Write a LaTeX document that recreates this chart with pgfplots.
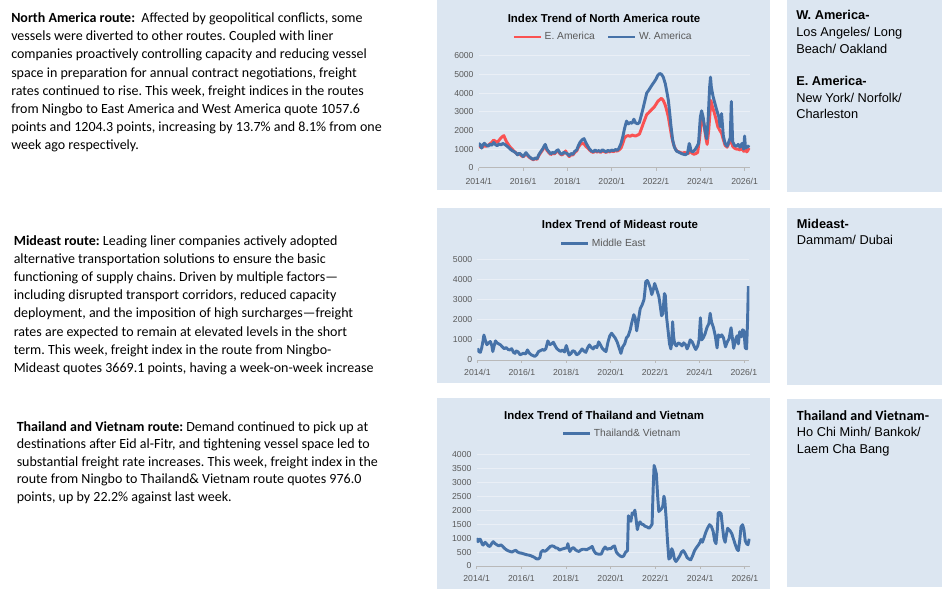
\documentclass[border=0pt]{standalone}
\usepackage{fontspec}
\setmainfont{Liberation Sans}
\newfontfamily\calfont{Carlito}
\usepackage{pgfplots}
\usepackage{pgfplotstable}
\pgfplotsset{compat=1.18}
\frenchspacing

\definecolor{panel}{RGB}{220,230,241}
\definecolor{gridc}{RGB}{234,239,246}
\definecolor{wam}{RGB}{70,114,168}
\definecolor{eam}{RGB}{250,82,82}
\definecolor{lbl}{RGB}{89,89,89}

% North America, West coast
\pgfplotstableread{
year val
2014.00 1130
2014.04 1280
2014.08 1180
2014.13 1050
2014.17 1200
2014.25 1310
2014.33 1220
2014.42 1150
2014.50 1260
2014.58 1200
2014.67 1350
2014.75 1240
2014.83 1180
2014.92 1280
2015.00 1220
2015.08 1300
2015.17 1250
2015.25 1180
2015.33 1100
2015.42 1000
2015.50 920
2015.58 870
2015.67 800
2015.75 690
2015.83 780
2015.92 700
2016.00 600
2016.08 720
2016.13 810
2016.21 680
2016.29 580
2016.38 500
2016.46 450
2016.54 520
2016.63 480
2016.71 700
2016.79 850
2016.88 1000
2016.96 1180
2017.00 1250
2017.08 980
2017.17 850
2017.25 740
2017.33 820
2017.42 780
2017.50 900
2017.58 960
2017.67 780
2017.75 720
2017.83 820
2017.92 790
2018.00 750
2018.08 650
2018.17 760
2018.25 720
2018.33 880
2018.42 950
2018.50 1200
2018.58 1380
2018.67 1500
2018.75 1560
2018.83 1350
2018.92 1150
2019.00 1000
2019.08 900
2019.17 860
2019.25 950
2019.33 880
2019.42 920
2019.50 860
2019.58 960
2019.67 900
2019.75 850
2019.83 930
2019.92 880
2020.00 950
2020.08 900
2020.17 980
2020.25 930
2020.33 1050
2020.42 1300
2020.50 1650
2020.58 2100
2020.67 2500
2020.75 2350
2020.83 2420
2020.92 2380
2021.00 2600
2021.08 2400
2021.17 2350
2021.25 2420
2021.33 2780
2021.42 3200
2021.50 3600
2021.58 4000
2021.67 4150
2021.75 4300
2021.83 4450
2021.92 4600
2022.00 4750
2022.08 4950
2022.17 5050
2022.25 5000
2022.33 4850
2022.42 4500
2022.50 4000
2022.56 3600
2022.63 2800
2022.67 2300
2022.75 1500
2022.83 1100
2022.92 900
2023.00 850
2023.08 800
2023.17 750
2023.25 720
2023.33 700
2023.42 760
2023.50 1300
2023.54 1150
2023.58 900
2023.67 850
2023.75 950
2023.83 1100
2023.92 1300
2024.00 2700
2024.06 3050
2024.13 2700
2024.21 2000
2024.29 1550
2024.35 2500
2024.42 4300
2024.46 4850
2024.50 4300
2024.58 3800
2024.67 3400
2024.75 3050
2024.83 2750
2024.90 2200
2024.96 2900
2025.04 1700
2025.12 1300
2025.21 1150
2025.29 1400
2025.35 1600
2025.40 3550
2025.46 1400
2025.54 1200
2025.63 1150
2025.71 1250
2025.79 1100
2025.88 1300
2025.96 1000
2026.00 1700
2026.04 1050
2026.10 1100
2026.15 1114
2026.20 1204
}\wamdata

% North America, East coast
\pgfplotstableread{
year val
2014.00 1100
2014.08 1150
2014.17 1100
2014.25 1180
2014.33 1150
2014.42 1200
2014.50 1280
2014.58 1350
2014.67 1480
2014.75 1420
2014.83 1350
2014.92 1480
2015.00 1600
2015.08 1680
2015.13 1720
2015.17 1600
2015.25 1400
2015.33 1250
2015.42 1100
2015.50 1000
2015.58 900
2015.67 800
2015.75 700
2015.83 750
2015.92 650
2016.00 580
2016.08 680
2016.13 760
2016.21 640
2016.29 550
2016.38 480
2016.46 430
2016.54 480
2016.63 450
2016.71 650
2016.79 800
2016.88 950
2016.96 1100
2017.00 1150
2017.08 920
2017.17 800
2017.25 700
2017.33 780
2017.42 740
2017.50 850
2017.58 900
2017.67 740
2017.75 680
2017.83 760
2017.92 900
2018.00 720
2018.08 600
2018.17 700
2018.25 680
2018.33 820
2018.42 900
2018.50 1100
2018.58 1250
2018.67 1300
2018.75 1280
2018.83 1150
2018.92 1050
2019.00 950
2019.08 860
2019.17 820
2019.25 900
2019.33 840
2019.42 880
2019.50 820
2019.58 900
2019.67 860
2019.75 820
2019.83 880
2019.92 850
2020.00 900
2020.08 860
2020.17 920
2020.25 890
2020.33 950
2020.42 1050
2020.50 1300
2020.58 1600
2020.67 1700
2020.75 1720
2020.83 1680
2020.92 1750
2021.00 1720
2021.08 1700
2021.17 1750
2021.25 1800
2021.33 2050
2021.42 2350
2021.50 2600
2021.58 2850
2021.67 2950
2021.75 3050
2021.83 3150
2021.92 3250
2022.00 3400
2022.08 3550
2022.17 3650
2022.25 3720
2022.33 3600
2022.42 3350
2022.50 3000
2022.56 2700
2022.63 2200
2022.71 1650
2022.79 1250
2022.88 1000
2022.96 880
2023.04 850
2023.13 800
2023.21 780
2023.29 820
2023.38 780
2023.46 760
2023.54 900
2023.63 780
2023.71 720
2023.79 750
2023.88 820
2023.96 1500
2024.04 2400
2024.10 2700
2024.17 2300
2024.25 1600
2024.31 1250
2024.38 2000
2024.44 3000
2024.48 3600
2024.54 3300
2024.63 2950
2024.71 2600
2024.79 2200
2024.88 2000
2024.96 1850
2025.04 1500
2025.12 1200
2025.21 1100
2025.29 1300
2025.38 1350
2025.42 1500
2025.46 1150
2025.54 1050
2025.63 1000
2025.71 1000
2025.79 950
2025.88 1050
2025.96 880
2026.04 950
2026.10 850
2026.15 930
2026.20 1058
}\eamdata

% Mideast
\pgfplotstableread{
year val
2014.00 580
2014.06 420
2014.13 380
2014.19 600
2014.25 950
2014.29 1240
2014.35 1000
2014.42 760
2014.50 850
2014.58 920
2014.65 700
2014.69 420
2014.75 700
2014.81 950
2014.88 850
2014.96 800
2015.04 750
2015.12 650
2015.21 560
2015.29 620
2015.38 520
2015.46 500
2015.54 560
2015.62 380
2015.69 330
2015.75 450
2015.83 400
2015.92 260
2016.00 300
2016.08 340
2016.17 300
2016.25 500
2016.33 350
2016.42 260
2016.50 220
2016.58 180
2016.67 260
2016.75 420
2016.83 460
2016.92 520
2017.00 480
2017.08 560
2017.17 950
2017.25 760
2017.33 800
2017.42 880
2017.50 700
2017.58 560
2017.67 480
2017.75 430
2017.83 500
2017.92 400
2018.00 720
2018.08 420
2018.13 250
2018.21 320
2018.29 460
2018.38 420
2018.46 260
2018.54 300
2018.63 420
2018.71 550
2018.79 450
2018.88 380
2018.96 600
2019.04 750
2019.13 620
2019.21 550
2019.29 680
2019.38 620
2019.46 900
2019.54 750
2019.62 580
2019.71 480
2019.79 420
2019.88 900
2019.96 1200
2020.04 1330
2020.13 1200
2020.21 1080
2020.29 900
2020.38 600
2020.46 330
2020.54 650
2020.63 800
2020.71 1100
2020.79 1200
2020.88 1500
2020.96 1900
2021.04 2250
2021.10 2100
2021.17 1450
2021.25 2000
2021.33 2550
2021.42 2750
2021.50 3000
2021.54 3400
2021.58 3900
2021.65 3950
2021.71 3800
2021.79 3550
2021.85 3250
2021.92 3500
2021.98 3800
2022.04 3600
2022.10 3400
2022.17 3150
2022.23 2700
2022.29 2200
2022.35 2300
2022.42 3300
2022.46 3200
2022.52 2100
2022.58 1500
2022.65 800
2022.71 550
2022.75 900
2022.79 1900
2022.83 1200
2022.88 800
2022.96 700
2023.04 850
2023.13 800
2023.21 700
2023.29 850
2023.38 750
2023.44 550
2023.50 700
2023.58 1000
2023.67 900
2023.75 700
2023.83 520
2023.92 700
2023.98 1000
2024.04 2100
2024.10 1000
2024.17 1100
2024.25 1300
2024.33 1600
2024.42 1800
2024.48 2320
2024.54 1900
2024.63 1600
2024.71 1200
2024.79 600
2024.85 1250
2024.92 1150
2025.00 1250
2025.08 1100
2025.17 650
2025.25 900
2025.33 1050
2025.42 1600
2025.48 1100
2025.54 580
2025.62 1000
2025.69 1200
2025.75 800
2025.81 1400
2025.88 1150
2025.94 1500
2026.00 1450
2026.06 600
2026.12 550
2026.16 1800
2026.20 3669
}\medata

% Thailand and Vietnam
\pgfplotstableread{
year val
2014.00 1000
2014.06 870
2014.12 960
2014.17 950
2014.25 780
2014.29 750
2014.38 850
2014.44 800
2014.52 720
2014.59 700
2014.67 800
2014.74 870
2014.83 800
2014.92 750
2015.00 720
2015.08 760
2015.17 700
2015.25 630
2015.33 580
2015.42 540
2015.50 520
2015.58 500
2015.67 540
2015.75 560
2015.83 500
2015.92 470
2016.00 460
2016.08 440
2016.17 420
2016.25 400
2016.33 390
2016.42 370
2016.50 340
2016.58 310
2016.67 260
2016.75 250
2016.83 300
2016.88 500
2016.96 560
2017.04 520
2017.12 560
2017.21 630
2017.29 700
2017.38 720
2017.46 700
2017.54 650
2017.62 640
2017.71 570
2017.79 600
2017.88 620
2017.96 640
2018.04 650
2018.08 800
2018.13 620
2018.17 520
2018.25 620
2018.33 660
2018.42 580
2018.50 540
2018.58 520
2018.67 580
2018.75 600
2018.83 600
2018.92 580
2019.00 620
2019.08 650
2019.17 700
2019.25 540
2019.33 450
2019.42 430
2019.50 420
2019.58 430
2019.67 600
2019.75 680
2019.83 600
2019.92 620
2020.00 620
2020.08 680
2020.17 720
2020.25 500
2020.33 420
2020.42 360
2020.50 330
2020.58 360
2020.67 500
2020.75 550
2020.79 1800
2020.85 1650
2020.90 1600
2020.96 1900
2021.02 1850
2021.08 2000
2021.13 1700
2021.19 1300
2021.25 1500
2021.31 1580
2021.38 1500
2021.46 1480
2021.54 1420
2021.62 1400
2021.71 1350
2021.79 1420
2021.85 1500
2021.90 2800
2021.94 3600
2021.98 3500
2022.04 3300
2022.10 2500
2022.15 1950
2022.21 2000
2022.27 2050
2022.33 2150
2022.38 2500
2022.42 2350
2022.48 1700
2022.54 900
2022.60 250
2022.67 300
2022.73 620
2022.79 500
2022.85 250
2022.92 160
2023.00 250
2023.08 350
2023.17 500
2023.25 550
2023.33 450
2023.42 300
2023.50 250
2023.58 220
2023.67 380
2023.75 550
2023.83 650
2023.92 750
2024.00 850
2024.04 950
2024.10 850
2024.17 1000
2024.25 1200
2024.33 1350
2024.42 1480
2024.50 1420
2024.58 1250
2024.65 900
2024.71 800
2024.77 1300
2024.81 1900
2024.88 1920
2024.94 1870
2025.00 1400
2025.06 1000
2025.12 850
2025.17 1100
2025.23 1350
2025.29 1300
2025.35 1250
2025.42 1150
2025.50 950
2025.58 750
2025.65 600
2025.71 550
2025.77 900
2025.83 1400
2025.90 1480
2025.96 1300
2026.02 900
2026.08 800
2026.14 760
2026.20 976
}\tvdata

\pgfplotsset{
  route/.style={
    scale only axis,
    anchor=south west,
    xmin=2014, xmax=2026.25, ymin=0,
    xtick={2014,2016,2018,2020,2022,2024,2026},
    xticklabels={2014/1,2016/1,2018/1,2020/1,2022/1,2024/1,2026/1},
    axis x line*=bottom, axis y line*=left,
    y axis line style={draw=none},
    x axis line style={draw=gray!55, line width=0.6pt},
    ytick style={draw=none},
    xtick style={draw=gray!55, line width=0.6pt},
    tick align=outside, major tick length=2.2pt,
    ymajorgrids, grid style={draw=gridc, line width=0.7pt},
    tick label style={font=\fontsize{6.5}{7}\selectfont, text=lbl},
    yticklabel style={xshift=1.8pt},
    /pgf/number format/assume math mode=true,
    /pgf/number format/1000 sep={},
    legend style={draw=none, fill=none, anchor=center,
      font=\fontsize{7.7}{8}\selectfont, text=lbl,
      /tikz/every even column/.append style={column sep=7pt}},
    legend columns=-1,
    legend image code/.code={\draw[#1, line width=2.2pt] (0pt,0pt) -- (20pt,0pt);},
    every axis plot/.append style={line width=2.2pt, line join=round, no markers},
  }
}

\newcommand\tline[3]{\node[anchor=base west, inner sep=0, font=\calfont\fontsize{10.5}{13}\selectfont] at (#1,#2) {#3};}
\newcommand\bline[3]{\node[anchor=base west, inner sep=0, font=\fontsize{9.6}{11}\selectfont] at (#1,#2) {#3};}

\begin{document}
\begin{tikzpicture}[x=0.75pt,y=0.75pt]
\path[use as bounding box] (0,0) rectangle (949,590);

% panels
\fill[panel] (437,400) rectangle (770,590);
\fill[panel] (437,207) rectangle (770,382);
\fill[panel] (437,1) rectangle (770,192);
\fill[panel] (787,398) rectangle (942,590);
\fill[panel] (787,205) rectangle (942,382);
\fill[panel] (787,3) rectangle (942,191);

% North America
\begin{axis}[route, at={(359.1pt,316.7pt)}, width=203.5pt, height=84pt,
  ymax=6000, ytick={0,1000,...,6000},
  xticklabel style={yshift=-2pt},
  legend style={at={(0.459,1.167)}}]
\addplot[eam] table[x=year,y=val] {\eamdata};
\addplot[wam] table[x=year,y=val] {\wamdata};
\legend{E. America, W. America}
\end{axis}

% Mideast
\begin{axis}[route, at={(358.1pt,172.5pt)}, width=204pt, height=75.5pt,
  ymax=5000, ytick={0,1000,...,5000},
  xticklabel style={yshift=-1.3pt},
  legend style={at={(0.465,1.159)}}]
\addplot[wam] table[x=year,y=val] {\medata};
\legend{Middle East}
\end{axis}

% Thailand and Vietnam
\begin{axis}[route, at={(357.5pt,18pt)}, width=205.3pt, height=83.8pt,
  ymax=4000, ytick={0,500,...,4000},
  xticklabel style={yshift=-1.3pt},
  legend style={at={(0.532,1.182)}}]
\addplot[wam] table[x=year,y=val] {\tvdata};
\legend{Thailand\& Vietnam}
\end{axis}

% chart titles
\node[font=\bfseries\fontsize{8.6}{10}\selectfont] at (604,572) {Index Trend of North America route};
\node[font=\bfseries\fontsize{8.6}{10}\selectfont] at (620,365.7) {Index Trend of Mideast route};
\node[font=\bfseries\fontsize{8.6}{10}\selectfont] at (604,174.3) {Index Trend of Thailand and Vietnam};

% port boxes
\bline{796}{570}{\textbf{W. America-}}
\bline{796}{553.3}{Los Angeles/ Long}
\bline{796}{536.7}{Beach/ Oakland}
\bline{796}{504}{\textbf{E. America-}}
\bline{796}{487.7}{New York/ Norfolk/}
\bline{796}{471}{Charleston}
\bline{796.7}{361.7}{\textbf{Mideast-}}
\bline{796.7}{345}{Dammam/ Dubai}
\node[anchor=base west, inner sep=0, font=\calfont\bfseries\fontsize{10.5}{12}\selectfont] at (796.7,170) {Thailand and Vietnam-};
\bline{796.7}{153.3}{Ho Chi Minh/ Bankok/}
\bline{796.7}{136.7}{Laem Cha Bang}

% commentary
\tline{11}{567.5}{\textbf{North America route:}\ \ Affected by geopolitical conflicts, some}
\tline{11}{549.3}{vessels were diverted to other routes. Coupled with liner}
\tline{11}{531.1}{companies proactively controlling capacity and reducing vessel}
\tline{11}{512.9}{space in preparation for annual contract negotiations, freight}
\tline{11}{494.7}{rates continued to rise. This week, freight indices in the routes}
\tline{11}{476.5}{from Ningbo to East America and West America quote 1057.6}
\tline{11}{458.3}{points and 1204.3 points, increasing by 13.7\% and 8.1\% from one}
\tline{11}{440.1}{week ago respectively.}

\tline{13.5}{344.5}{\textbf{Mideast route:} Leading liner companies actively adopted}
\tline{13.5}{326.4}{alternative transportation solutions to ensure the basic}
\tline{13.5}{308.3}{functioning of supply chains. Driven by multiple factors—}
\tline{13.5}{290.2}{including disrupted transport corridors, reduced capacity}
\tline{13.5}{272.1}{deployment, and the imposition of high surcharges—freight}
\tline{13.5}{254}{rates are expected to remain at elevated levels in the short}
\tline{13.5}{235.9}{term. This week, freight index in the route from Ningbo-}
\tline{13.5}{217.8}{Mideast quotes 3669.1 points, having a week-on-week increase}

\tline{16.5}{159}{\textbf{Thailand and Vietnam route:} Demand continued to pick up at}
\tline{16.5}{141.4}{destinations after Eid al-Fitr, and tightening vessel space led to}
\tline{16.5}{123.8}{substantial freight rate increases. This week, freight index in the}
\tline{16.5}{106.2}{route from Ningbo to Thailand\& Vietnam route quotes 976.0}
\tline{16.5}{88.6}{points, up by 22.2\% against last week.}
\end{tikzpicture}
\end{document}
